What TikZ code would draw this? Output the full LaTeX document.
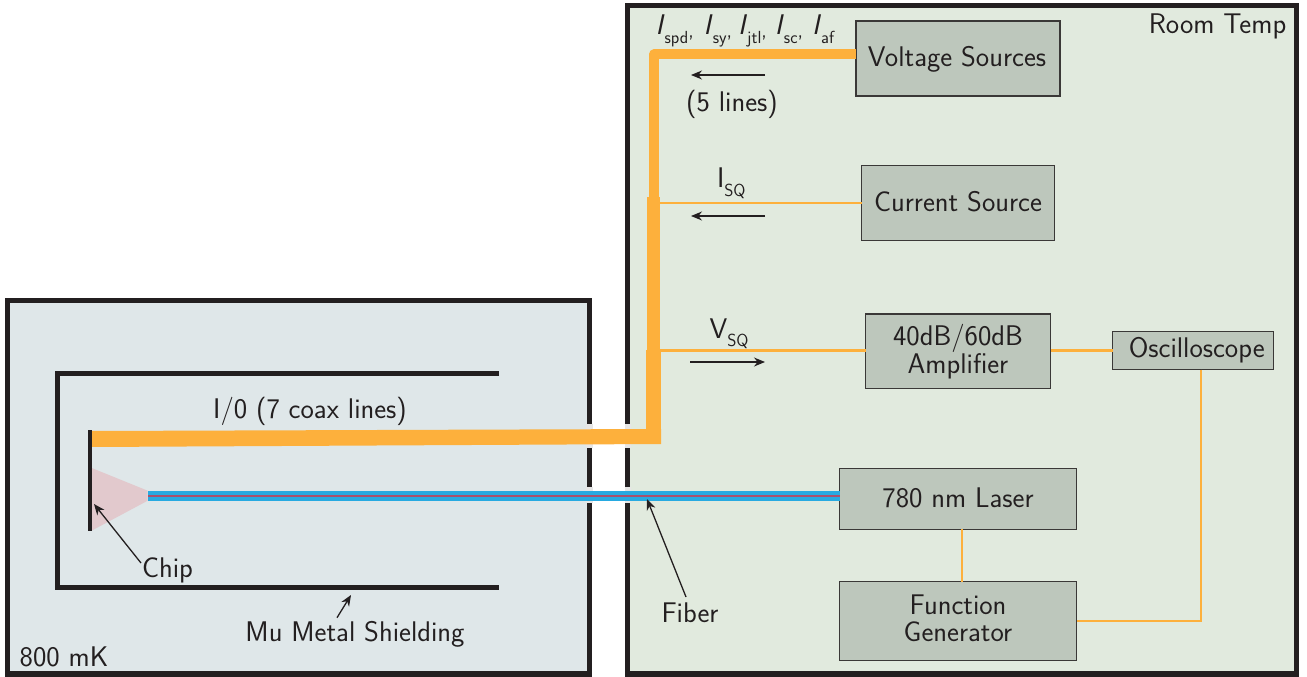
\documentclass[tikz,border=0pt]{standalone}
\usetikzlibrary{arrows.meta}
\definecolor{roomfill}{HTML}{E1EADE}
\definecolor{coldfill}{HTML}{DFE7E9}
\definecolor{boxfill}{HTML}{BDC7BC}
\definecolor{ink}{HTML}{231F20}
\definecolor{wire}{HTML}{FDB03C}
\definecolor{chipfill}{HTML}{E2C9CD}
\definecolor{fibre}{HTML}{27AAE1}
\definecolor{fibrecore}{HTML}{A8516E}
\definecolor{wallgap}{HTML}{E6E6E6}
\newcommand{\subf}[1]{{\fontsize{17.5}{18}\selectfont #1}}
\newcommand{\curr}[2]{\textit{I}\raisebox{-8.5pt}{\subf{#1}}\ifx#2y\raisebox{-2pt}{{\fontsize{21}{21}\selectfont ,}}\fi}
\newcommand{\lift}[1]{\rule[-#1]{0pt}{#1}}
\tikzset{
  x=1pt,y=-1pt,
  every node/.style={font=\sffamily\fontsize{28.4}{27}\selectfont,text=ink,inner sep=0pt,outer sep=0pt,align=center},
  panel/.style={draw=ink,line width=5.3pt},
  shield/.style={draw=ink,line width=5pt},
  devbox/.style={draw=ink!85!boxfill,line width=1.2pt,fill=boxfill},
  thinwire/.style={draw=wire,line width=2.8pt},
  note/.style={draw=ink,line width=1.3pt,-{Stealth[length=11pt,width=9pt]}},
  lbl/.style={anchor=center},
}
\begin{document}
\begin{tikzpicture}
\useasboundingbox (0,0) rectangle (1307,677);
\path[fill=white] (0,0) rectangle (1307,677);
% panels
\draw[panel,fill=coldfill] (7.5,300.7) rectangle (589.5,674);
\draw[panel,fill=roomfill] (627.7,5.7) rectangle (1296.5,674);
% gaps in the panel walls
\fill[wallgap] (586,424) rectangle (593,448);
\fill[wallgap] (624.5,424) rectangle (631,448);
\fill[wallgap] (586,487) rectangle (593,503);
\fill[wallgap] (624.5,487) rectangle (631,503);
% shielding
\coordinate (shieldTop) at (499,373.5);
\coordinate (shieldTL) at (57.5,373.5);
\coordinate (shieldBL) at (57.5,587.8);
\coordinate (shieldBot) at (499,587.8);
\draw[shield] (shieldTop) -- (shieldTL) -- (shieldBL) -- (shieldBot);
% devices
\node[devbox,minimum width=204pt,minimum height=75pt] (volt) at (958,58.5) {\rule{0pt}{22.5pt}\hspace{-2pt}Voltage Sources};
\node[devbox,minimum width=193pt,minimum height=75pt] (curr) at (958,203) {Current Source\lift{3pt}};
\node[devbox,minimum width=185pt,minimum height=74.5pt] (amp) at (958,351.3) {40dB/60dB\\Amplifier};
\node[devbox,minimum width=161pt,minimum height=38.4pt] (osc) at (1193.2,350.5) {\hspace{7pt}Oscilloscope};
\node[devbox,minimum width=237.4pt,minimum height=60.6pt] (laser) at (958,499) {780 nm Laser\lift{2pt}};
\node[devbox,minimum width=237.4pt,minimum height=78.6pt] (func) at (958,621) {Function\\Generator\lift{5pt}};
% orange bundle
\coordinate (busTop) at (654,54.5);
\coordinate (busCurr) at (655,203);
\coordinate (busAmp) at (655,350.3);
\fill[wire] (91,431) -- (661,429) -- (661,444) -- (91,447) -- cycle;
\fill[wire] (646,350) rectangle (661,444);
\fill[wire] (647,197) rectangle (660,350);
\draw[wire,line width=10pt,line join=round] (volt.west |- busTop) -- (busTop) -- (654,197);
\draw[thinwire] (curr.west) -- (busCurr);
\draw[thinwire] (amp.west |- busAmp) -- (busAmp);
\draw[thinwire] (amp.east |- busAmp) -- (osc.west |- busAmp);
\coordinate (ffTop) at (962,529);
\coordinate (ffBot) at (962,582);
\draw[thinwire] (ffTop) -- (ffBot);
\coordinate (oscDrop) at (1201,621);
\draw[thinwire] (oscDrop |- osc.south) -- (oscDrop) -- (func.east);
% chip
\fill[chipfill] (91,467.7) -- (147.7,490.7) -- (147.7,500.7) -- (91,531) -- cycle;
\coordinate (chipTop) at (90,430);
\coordinate (chipBot) at (90,531);
\draw[ink,line width=3.4pt] (chipTop) -- (chipBot);
% fibre
\fill[fibre] (147.7,490.7) rectangle (840,500.7);
\fill[fibrecore] (147.7,495) rectangle (840,497.2);
% labels
\node[lbl] at (310,411.5) {I/0 (7 coax lines)};
\node[lbl] at (167.5,570) {Chip};
\node[lbl] at (355,634) {Mu Metal Shielding};
\node[lbl] at (64,657) {800 mK};
\node[lbl] at (690,612.5) {Fiber};
\node[lbl] at (1217.5,26) {Room Temp};
\node[lbl] at (732,104) {(5 lines)};
\node[anchor=base west] at (717,187) {I\raisebox{-9pt}{\subf{SQ}}};
\node[anchor=base west] at (709.5,338) {V\raisebox{-8pt}{\subf{SQ}}};
\node[anchor=base west] at (655.5,35) {\curr{spd}{y}\hspace{10pt}\curr{sy}{y}\hspace{6pt}\curr{jtl}{y}\hspace{8pt}\curr{sc}{y}\hspace{9pt}\curr{af}{n}};
% arrows
\coordinate (a1s) at (765,75); \coordinate (a1e) at (691,75);
\coordinate (a2s) at (765,216); \coordinate (a2e) at (691,216);
\coordinate (a3s) at (690,362); \coordinate (a3e) at (765,362);
\draw[note] (a1s) -- (a1e);
\draw[note] (a2s) -- (a2e);
\draw[note] (a3s) -- (a3e);
\coordinate (chipLblEnd) at (141,563); \coordinate (chipTip) at (94,504);
\draw[note] (chipLblEnd) -- (chipTip);
\coordinate (fiberLblEnd) at (686,597); \coordinate (fiberTip) at (647,499);
\draw[note] (fiberLblEnd) -- (fiberTip);
\coordinate (muEnd) at (337,617.7); \coordinate (muTip) at (351,595);
\draw[note] (muEnd) -- (muTip);
\end{tikzpicture}
\end{document}
